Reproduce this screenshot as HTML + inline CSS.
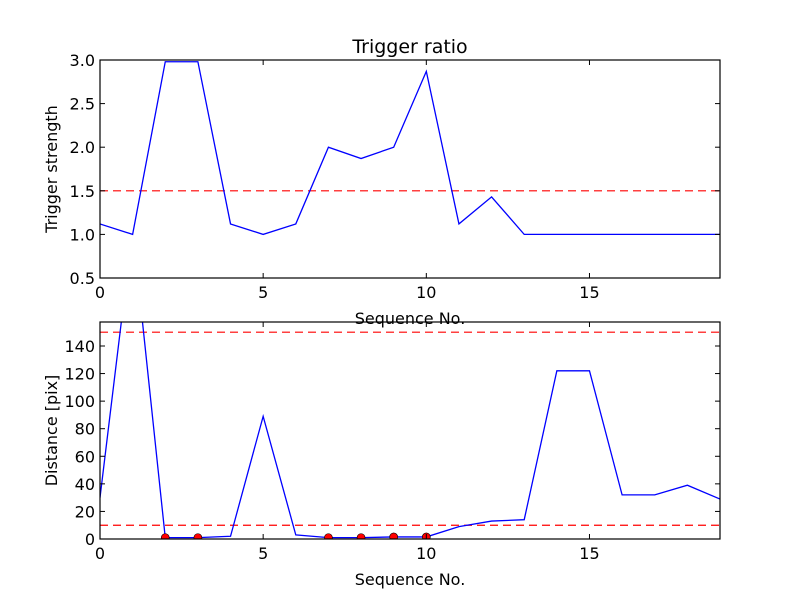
<!DOCTYPE html>
<html><head><meta charset="utf-8"><style>body{margin:0;background:#fff}svg{display:block;font-family:"DejaVu Sans","Liberation Sans",sans-serif}</style></head>
<body>
<svg id="c" width="800" height="600"></svg>
<script>
const xs = [0,1,2,3,4,5,6,7,8,9,10,11,12,13,14,15,16,17,18,19];
const ratio = [1.12,1.0,2.98,2.98,1.12,1.0,1.12,2.0,1.87,2.0,2.87,1.12,1.43,1.0,1.0,1.0,1.0,1.0,1.0,1.0];
const dist = [30,225,1,1,2,89,3,1,1,1.5,1.5,9,13,14,122,122,32,32,39,29];
const markedIdx = [2,3,7,8,9,10];
const xTicks = [0,5,10,15];
const topYTicks = [0.5,1.0,1.5,2.0,2.5,3.0];
const botYTicks = [0,20,40,60,80,100,120,140];
const topThresh = [1.5];
const botThresh = [10,150];

const NS="http://www.w3.org/2000/svg";
const svg=document.getElementById('c');
function el(t,a,p){const e=document.createElementNS(NS,t);for(const k in a)e.setAttribute(k,a[k]);(p||svg).appendChild(e);return e;}
function panel(name,top,bot,ymin,ymax,yTicks,fmt,vals,thr,ylabel,title,dots){
  const L=100,R=720;
  const sx=v=>L+(v-0)/(19-0)*(R-L);
  const sy=v=>bot-(v-ymin)/(ymax-ymin)*(bot-top);
  const g=el('g',{});
  const cid='clip'+name;
  const cp=el('clipPath',{id:cid},g);el('rect',{x:L,y:top,width:R-L,height:bot-top},cp);
  const pg=el('g',{'clip-path':'url(#'+cid+')'},g);
  thr.forEach(t=>{const l=el('line',{x1:L,x2:R,y1:sy(t),y2:sy(t),stroke:'#f00','stroke-width':1.2,'stroke-dasharray':'8,5'},pg);
    });
  const pl=el('polyline',{points:xs.map((x,i)=>sx(x)+','+sy(vals[i])).join(' '),fill:'none',stroke:'#00f','stroke-width':1.3},pg);
  
  if(dots)dots.forEach(i=>{const c=el('circle',{cx:sx(xs[i]),cy:sy(vals[i]),r:4,fill:'#f00',stroke:'#000','stroke-width':0.6},pg);
    });
  const fr=el('rect',{x:L,y:top,width:R-L,height:bot-top,fill:'none',stroke:'#000','stroke-width':1.2},g);
  
  xTicks.forEach(t=>{const x=sx(t);
    el('line',{x1:x,x2:x,y1:bot,y2:bot-5,stroke:'#000'},g);el('line',{x1:x,x2:x,y1:top,y2:top+5,stroke:'#000'},g);
    const tx=el('text',{x:x,y:bot+20,'font-size':16,'text-anchor':'middle'},g);tx.textContent=t;
    });
  yTicks.forEach(t=>{const y=sy(t);
    el('line',{x1:L,x2:L+5,y1:y,y2:y,stroke:'#000'},g);el('line',{x1:R,x2:R-5,y1:y,y2:y,stroke:'#000'},g);
    const tx=el('text',{x:L-5,y:y+6,'font-size':16,'text-anchor':'end'},g);tx.textContent=fmt(t);
    });
  const xl=el('text',{x:410,y:bot+46,'font-size':16,'text-anchor':'middle'},g);xl.textContent='Sequence No.';
  
  const yl=el('text',{x:0,y:0,'font-size':16,'text-anchor':'middle',transform:'translate(57,'+((top+bot)/2)+') rotate(-90)'},g);yl.textContent=ylabel;
  
  if(title){const ti=el('text',{x:410,y:top-7,'font-size':19,'text-anchor':'middle'},g);ti.textContent=title;
    }
}
panel('top',60,278,0.5,3.0,topYTicks,v=>v.toFixed(1),ratio,topThresh,'Trigger strength','Trigger ratio',null);
panel('bottom',322,539,0,157.4,botYTicks,v=>String(v),dist,botThresh,'Distance [pix]',null,markedIdx);
</script>
</body></html>
